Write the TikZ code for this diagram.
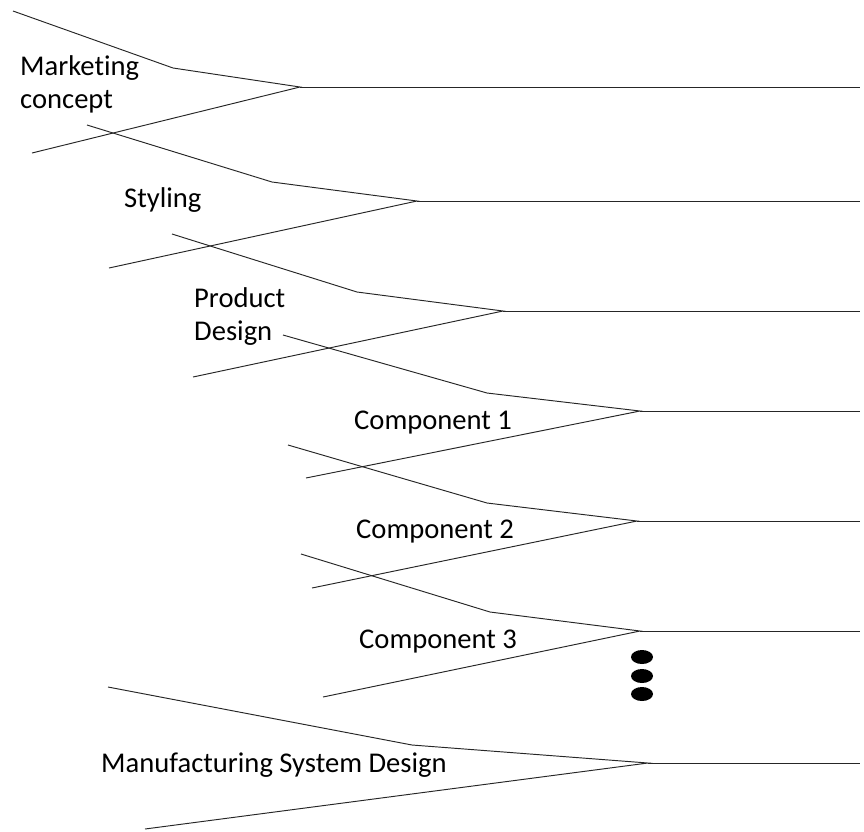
\documentclass[tikz,border=0pt]{standalone}
\usepackage{fontspec}
\setmainfont{Carlito}[Ligatures=NoCommon]

\tikzset{
  stage/.style={draw=black!85, line width=0.95pt},
  stagelabel/.style={inner sep=0pt, anchor=base west, align=left,
    font=\fontsize{28.6}{32.5}\selectfont},
  moredots/.style={fill=black}
}

\begin{document}
\begin{tikzpicture}[x=1pt,y=-1pt]
    \useasboundingbox (0,0) rectangle (864,831);

    % upper start / kink / tip / lower start of each stage
    \foreach \i/\ux/\uy/\kx/\ky/\tx/\ty/\lx/\ly in {
        1/13/11/173/68/300/87/32/153,
        2/87/125/272/182/417/201/109/268,
        3/172/234/357/292/503/311/193/377,
        4/283/335/487/393/640/411/306/478,
        5/288/445/487/503/637/521/312/588,
        6/301/554/490/612/640/631/323/697,
        7/108/687/412/745/648/763/145/829}
    {
        \coordinate (up\i) at (\ux,\uy);
        \coordinate (kink\i) at (\kx,\ky);
        \coordinate (tip\i) at (\tx,\ty);
        \coordinate (low\i) at (\lx,\ly);
        \coordinate (end\i) at (860,\ty);
        \draw[stage] (up\i) -- (kink\i) -- (tip\i) -- (low\i);
        \draw[stage] (tip\i) -- (end\i);
    }

    % two-line labels sit on the baseline of their last line
    \node[stagelabel] (marketing) at (20,108) {Marketing\\concept};
    \node[stagelabel] (styling) at (124,207) {Styling};
    \node[stagelabel] (product) at (194,340) {Product\\Design};
    \node[stagelabel] (comp1) at (354,429) {Component 1};
    \node[stagelabel] (comp2) at (356,538) {Component 2};
    \node[stagelabel] (comp3) at (359,648) {Component 3};
    \node[stagelabel] (manufacturing) at (101,772) {Manufacturing System Design};

    \foreach \y in {657,676,694}
        \fill[moredots] (642,\y) ellipse [x radius=11pt, y radius=7pt];
\end{tikzpicture}
\end{document}
